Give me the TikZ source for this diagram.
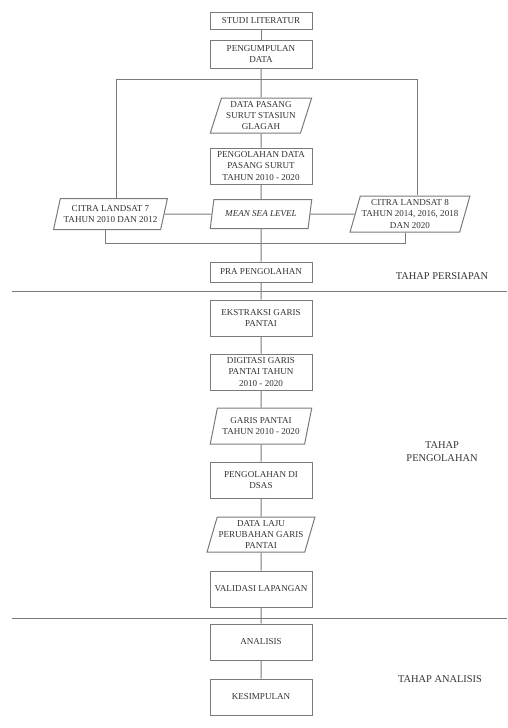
\documentclass[tikz,border=0pt]{standalone}
\usepackage{fontspec}
\setmainfont{Liberation Serif}
\usepackage{xcolor}
\usetikzlibrary{shapes.geometric,calc}
\definecolor{LineG}{HTML}{7A7A7A}
\definecolor{TextG}{HTML}{333333}

\begin{document}
\begin{tikzpicture}[
  x=0.75pt, y=-0.75pt,
  every node/.style={font=\fontsize{6.8}{8.5}\selectfont, text=TextG},
  proc/.style={rectangle, draw=LineG, line width=0.75pt, fill=white,
               align=center, minimum width=76.5pt, minimum height=27pt, inner sep=1pt},
  io/.style={trapezium, trapezium left angle=72, trapezium right angle=108,
             trapezium stretches=true, draw=LineG, line width=0.75pt, fill=white,
             align=center, minimum width=76.5pt, minimum height=27pt, inner sep=1pt},
  lnk/.style={draw=LineG, line width=0.75pt},
  stage/.style={font=\fontsize{7.8}{9.6}\selectfont, align=center, text=TextG},
]
\useasboundingbox (0,0) rectangle (507,728);

%% ─ Tahap persiapan ──────────────────────────────────────────────────────────
\node[proc, minimum height=12.75pt] (lit)  at (261, 20.5) {STUDI LITERATUR};
\node[proc, minimum height=21pt]    (kump) at (261, 54)   {PENGUMPULAN\\DATA};
\node[io, minimum height=26.25pt]   (pasut) at (261,115.5) {DATA PASANG\\SURUT STASIUN\\GLAGAH};
\node[proc]                         (olah) at (261,166)   {PENGOLAHAN DATA\\PASANG SURUT\\TAHUN 2010 - 2020};
\node[io, minimum height=21.75pt]   (msl)  at (261,214) {\textit{MEAN SEA LEVEL}};
\node[io, minimum height=23.25pt, minimum width=86pt]
     (ls7) at (110.5,214) {CITRA LANDSAT 7\\TAHUN 2010 DAN 2012};
\node[io, minimum width=87pt]
     (ls8) at (410,214)   {CITRA LANDSAT 8\\TAHUN 2014, 2016, 2018\\DAN 2020};
\node[proc, minimum height=15pt]    (pra)  at (261,272)   {PRA PENGOLAHAN};

%% ─ Tahap pengolahan ─────────────────────────────────────────────────────────
\node[proc]                       (eks)  at (261,318)   {EKSTRAKSI GARIS\\PANTAI};
\node[proc]                       (dig)  at (261,372)   {DIGITASI GARIS\\PANTAI TAHUN\\2010 - 2020};
\node[io]                         (gp)   at (261,426)   {GARIS PANTAI\\TAHUN 2010 - 2020};
\node[proc]                       (dsas) at (261,480)   {PENGOLAHAN DI\\DSAS};
\node[io, minimum height=26.25pt] (laju) at (261,534.5) {DATA LAJU\\PERUBAHAN GARIS\\PANTAI};
\node[proc]                       (val)  at (261,589)   {VALIDASI LAPANGAN};

%% ─ Tahap analisis ───────────────────────────────────────────────────────────
\node[proc] (ana) at (261,642) {ANALISIS};
\node[proc] (kes) at (261,697) {KESIMPULAN};

%% ─ Branch points ────────────────────────────────────────────────────────────
\coordinate (tl) at (116,79);
\coordinate (tr) at (417,79);
\coordinate (bl) at (105,243);
\coordinate (br) at (405,243);

%% ─ Connectors ───────────────────────────────────────────────────────────────
\draw[lnk] (lit) -- (kump);
\draw[lnk] (kump) -- (pasut) -- (olah) -- (msl) -- (pra);
\draw[lnk] (tl |- ls7.north) -- (tl) -- (tr) -- (tr |- ls8.north);
\draw[lnk] (ls7.east) -- (msl.west);
\draw[lnk] (msl.east) -- (ls8.west);
\draw[lnk] (bl |- ls7.south) -- (bl) -- (br) -- (br |- ls8.south);
\draw[lnk] (pra) -- (eks) -- (dig) -- (gp) -- (dsas) -- (laju) -- (val) -- (ana) -- (kes);

%% ─ Stage dividers ───────────────────────────────────────────────────────────
\draw[lnk] (12,291) -- (507,291);
\draw[lnk] (12,618) -- (507,618);

%% ─ Stage labels ─────────────────────────────────────────────────────────────
\node[stage] (st1) at (442,276) {TAHAP PERSIAPAN};
\node[stage] (st2) at (442,452) {TAHAP\\PENGOLAHAN};
\node[stage] (st3) at (440,679) {TAHAP ANALISIS};

\end{tikzpicture}
\end{document}
